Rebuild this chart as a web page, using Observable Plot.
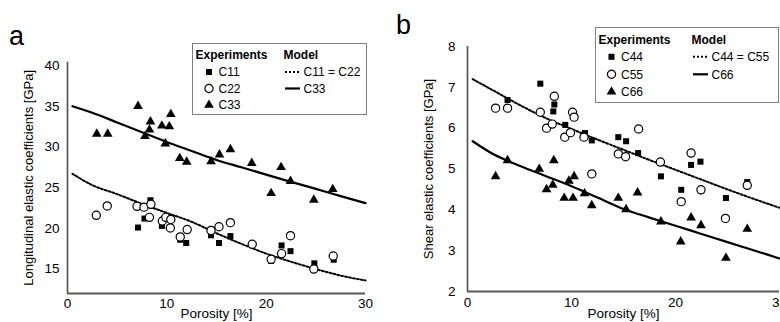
<!DOCTYPE html>
<html><head><meta charset="utf-8">
<script src="https://cdn.jsdelivr.net/npm/d3@7"></script>
<script src="https://cdn.jsdelivr.net/npm/@observablehq/plot@0.6"></script>
<style>
html,body{margin:0;padding:0;background:#fff;overflow:hidden;}
#root{position:relative;width:780px;height:322px;overflow:hidden;font-family:"Liberation Sans",Arial,sans-serif;}
.panel{position:absolute;top:0;}
.tag{position:absolute;font-size:27px;line-height:1;color:#000;}
svg.leg{position:absolute;left:0;top:0;overflow:visible;}
</style></head><body><div id="root"></div>
<script>
// ---------- Data (panel a) ----------
const xTicks = [0, 10, 20, 30];
const yTicksA = [15, 20, 25, 30, 35, 40];
const yTicksB = [2, 3, 4, 5, 6, 7, 8];

const c11Porosity = [7.1, 7.75, 8.35, 9.5, 11.35, 11.95, 14.45, 15.25, 16.4, 20.5, 21.55, 22.45, 24.85, 26.8];
const c11Values   = [20.1, 21.2, 23.45, 20.3, 18.6, 18.2, 19.15, 18.2, 19.05, 16.0, 17.9, 17.2, 15.7, 16.15];

const c22Porosity = [2.9, 4.0, 7.0, 7.7, 8.4, 8.25, 9.55, 9.9, 10.4, 10.35, 11.35, 12.05, 14.45, 15.25, 16.4, 18.6, 20.5, 21.55, 22.45, 24.8, 26.75];
const c22Values   = [21.6, 22.75, 22.7, 22.6, 22.95, 21.35, 20.9, 21.35, 21.1, 20.05, 18.95, 19.85, 19.75, 20.2, 20.7, 18.05, 16.2, 16.9, 19.1, 15.0, 16.6];

const c33Porosity = [2.95, 4.05, 7.1, 7.8, 8.25, 8.35, 9.5, 9.85, 10.25, 10.4, 11.3, 12.0, 14.45, 15.3, 16.4, 18.55, 20.5, 21.5, 22.45, 24.8, 26.7];
const c33Values   = [31.6, 31.6, 35.0, 31.3, 32.1, 33.1, 32.6, 30.4, 32.5, 34.0, 28.6, 28.15, 28.2, 29.05, 29.7, 28.0, 24.3, 27.5, 25.8, 23.5, 24.8];

const modelPorosity = [0.5, 2.5, 5, 7.5, 10, 12.5, 15, 17.5, 20, 22.5, 25, 27.5, 30];
const c11c22Model = [26.7, 25.3, 24.2, 23.0, 21.9, 20.8, 19.4, 18.1, 16.9, 15.9, 15.0, 14.2, 13.6];
const c33Model    = [35.0, 34.2, 33.0, 31.8, 30.6, 29.5, 28.4, 27.5, 26.6, 25.7, 24.85, 23.95, 23.1];

// ---------- Data (panel b) ----------
const c44Porosity = [3.85, 7.0, 8.25, 8.35, 9.4, 11.3, 11.95, 14.5, 15.25, 16.4, 18.6, 20.55, 21.5, 22.4, 24.85, 26.9];
const c44Values   = [6.69, 7.09, 6.41, 6.58, 6.08, 5.88, 5.70, 5.78, 5.68, 5.39, 4.82, 4.49, 5.1, 5.18, 4.29, 4.68];

const c55Porosity = [2.7, 3.85, 7.0, 7.6, 8.15, 8.35, 9.35, 9.9, 10.1, 10.25, 11.2, 11.95, 14.5, 15.2, 16.45, 18.55, 20.55, 21.5, 22.45, 24.8, 26.9];
const c55Values   = [6.49, 6.49, 6.39, 6.0, 6.1, 6.78, 5.78, 5.89, 6.39, 6.27, 5.78, 4.88, 5.37, 5.3, 5.98, 5.17, 4.2, 5.39, 4.49, 3.79, 4.6];

const c66Porosity = [2.7, 3.85, 6.9, 7.6, 8.2, 8.3, 9.3, 9.75, 10.15, 10.25, 11.25, 11.95, 14.5, 15.25, 16.35, 18.6, 20.5, 21.5, 22.45, 24.85, 26.9];
const c66Values   = [4.82, 5.21, 5.0, 4.5, 4.61, 5.21, 4.29, 4.71, 4.29, 4.82, 4.4, 4.11, 4.29, 4.01, 4.42, 3.71, 3.22, 3.81, 3.62, 2.82, 3.53];

const c44c55Model = [7.2, 6.92, 6.57, 6.25, 5.98, 5.72, 5.47, 5.22, 4.98, 4.74, 4.5, 4.27, 4.05];
const c66Model    = [5.68, 5.36, 5.08, 4.83, 4.58, 4.3, 4.02, 3.81, 3.61, 3.41, 3.21, 3.01, 2.81];

const xTitle = "Porosity [%]";
const yTitleA = "Longitudinal elastic coefficients [GPa]";
const yTitleB = "Shear elastic coefficients [GPa]";

// ---------- helpers ----------
const zip = (xs, ys) => xs.map((x, i) => ({p: x, v: ys[i]}));
const FONT = '"Liberation Sans", Arial, sans-serif';
const AXIS = "#595959";
const SQ_R = 3.4, CI_R = 4.1, TR_R = 3.6;
const DASH = "2,2";

function panel(o) {
  return Plot.plot({
    width: 390, height: 322,
    marginLeft: o.mL, marginRight: o.mR, marginTop: o.mT, marginBottom: o.mB,
    x: {domain: [0, 30], ticks: xTicks, tickSize: 0, tickPadding: o.xPad, label: null, tickFormat: d => String(d)},
    y: {domain: o.yDomain, ticks: o.yTicks, tickSize: 0, tickPadding: o.yPad, label: null, tickFormat: d => String(d)},
    style: {fontFamily: FONT, fontSize: "13.5px", color: "#000", background: "transparent", overflow: "visible"},
    marks: [
      Plot.ruleX([0], {stroke: AXIS, strokeWidth: 1.75}),
      Plot.ruleY([o.yDomain[0]], {stroke: AXIS, strokeWidth: 2}),
      Plot.line(zip(modelPorosity, o.dotted), {x: "p", y: "v", stroke: "#000", strokeWidth: 2, strokeDasharray: DASH, curve: "monotone-x"}),
      Plot.line(zip(modelPorosity, o.solid), {x: "p", y: "v", stroke: "#000", strokeWidth: 2.2, curve: "monotone-x"}),
      Plot.dot(o.s1, {x: "p", y: "v", symbol: "square", r: SQ_R, fill: "#000", stroke: "none"}),
      Plot.dot(o.s2, {x: "p", y: "v", symbol: "circle", r: CI_R, fill: "#fff", stroke: "#000", strokeWidth: 1.2}),
      Plot.dot(o.s3, {x: "p", y: "v", symbol: "triangle", r: TR_R, fill: "#000", stroke: "none"}),
      Plot.text([xTitle], {frameAnchor: "bottom", dy: o.xTitleDy, lineAnchor: "middle", textAnchor: "middle", fontSize: 13.5, fill: "#000"}),
      Plot.text([o.yTitle], {frameAnchor: "left", dx: -39, rotate: -90, lineAnchor: "middle", textAnchor: "middle", fontSize: 13, fill: "#000"})
    ]
  });
}

const root = document.getElementById("root");

const pa = panel({
  mL: 67, mR: 25, mT: 61.7, mB: 29, xPad: 5, yPad: 8,
  yDomain: [12, 40.4], yTicks: yTicksA,
  dotted: c11c22Model, solid: c33Model,
  s1: zip(c11Porosity, c11Values), s2: zip(c22Porosity, c22Values), s3: zip(c33Porosity, c33Values),
  xTitleDy: 20.5, yTitle: yTitleA
});
pa.classList.add("panel"); pa.style.left = "0px";
root.appendChild(pa);

const pb = panel({
  mL: 77, mR: 1, mT: 46, mB: 31, xPad: 6, yPad: 12,
  yDomain: [2, 8], yTicks: yTicksB,
  dotted: c44c55Model, solid: c66Model,
  s1: zip(c44Porosity, c44Values), s2: zip(c55Porosity, c55Values), s3: zip(c66Porosity, c66Values),
  xTitleDy: 22.5, yTitle: yTitleB
});
pb.classList.add("panel"); pb.style.left = "390px";
root.appendChild(pb);

// ---------- panel tags ----------
function tag(txt, left, top) {
  const d = document.createElement("div");
  d.className = "tag"; d.textContent = txt;
  d.style.left = left + "px"; d.style.top = top + "px";
  root.appendChild(d);
}
tag("a", 9, 23);
tag("b", 396, 12);

// ---------- legends ----------
const legSvg = d3.select(root).append("svg").attr("class", "leg").attr("width", 780).attr("height", 322);

function legend(cfg) {
  const g = legSvg.append("g").attr("font-family", FONT).attr("font-size", 12);
  g.append("rect").attr("x", cfg.left + 0.5).attr("y", cfg.top + 0.5)
    .attr("width", cfg.width).attr("height", cfg.height)
    .attr("fill", "#fff").attr("stroke", "#7f7f7f").attr("stroke-width", 1);
  const ty = y => y + 4.3;
  g.append("text").attr("x", cfg.exX).attr("y", ty(cfg.rows[0])).attr("font-weight", "bold").text(cfg.expTitle);
  g.append("text").attr("x", cfg.modX).attr("y", ty(cfg.rows[0])).attr("font-weight", "bold").text(cfg.modTitle);
  cfg.exp.forEach((lab, i) => {
    const y = cfg.rows[i + 1];
    const sym = [d3.symbolSquare, d3.symbolCircle, d3.symbolTriangle][i];
    const r = [SQ_R, CI_R, TR_R][i];
    g.append("path").attr("transform", `translate(${cfg.markX},${y})`)
      .attr("d", d3.symbol(sym, Math.PI * r * r)())
      .attr("fill", i === 1 ? "#fff" : "#000").attr("stroke", i === 1 ? "#000" : "none").attr("stroke-width", 1.2);
    g.append("text").attr("x", cfg.textX).attr("y", ty(y)).text(lab);
  });
  cfg.mod.forEach((lab, i) => {
    const y = cfg.rows[i + 1];
    g.append("line").attr("x1", cfg.sample[0]).attr("x2", cfg.sample[1]).attr("y1", y).attr("y2", y)
      .attr("stroke", "#000").attr("stroke-width", i === 0 ? 2 : 2.2).attr("stroke-dasharray", i === 0 ? DASH : null);
    g.append("text").attr("x", cfg.modTextX).attr("y", ty(y)).text(lab);
  });
}

legend({
  left: 192, top: 43, width: 174, height: 71,
  rows: [55, 72, 88.5, 105],
  exX: 195.5, markX: 209, textX: 218.5, modX: 283.5, sample: [285, 300], modTextX: 303.5,
  expTitle: "Experiments", modTitle: "Model",
  exp: ["C11", "C22", "C33"], mod: ["C11 = C22", "C33"]
});
legend({
  left: 595, top: 27, width: 183, height: 75,
  rows: [39.3, 56.8, 74.3, 91.8],
  exX: 598.5, markX: 611.5, textX: 621, modX: 691.5, sample: [693, 708], modTextX: 711.5,
  expTitle: "Experiments", modTitle: "Model",
  exp: ["C44", "C55", "C66"], mod: ["C44 = C55", "C66"]
});
</script>
</body></html>
